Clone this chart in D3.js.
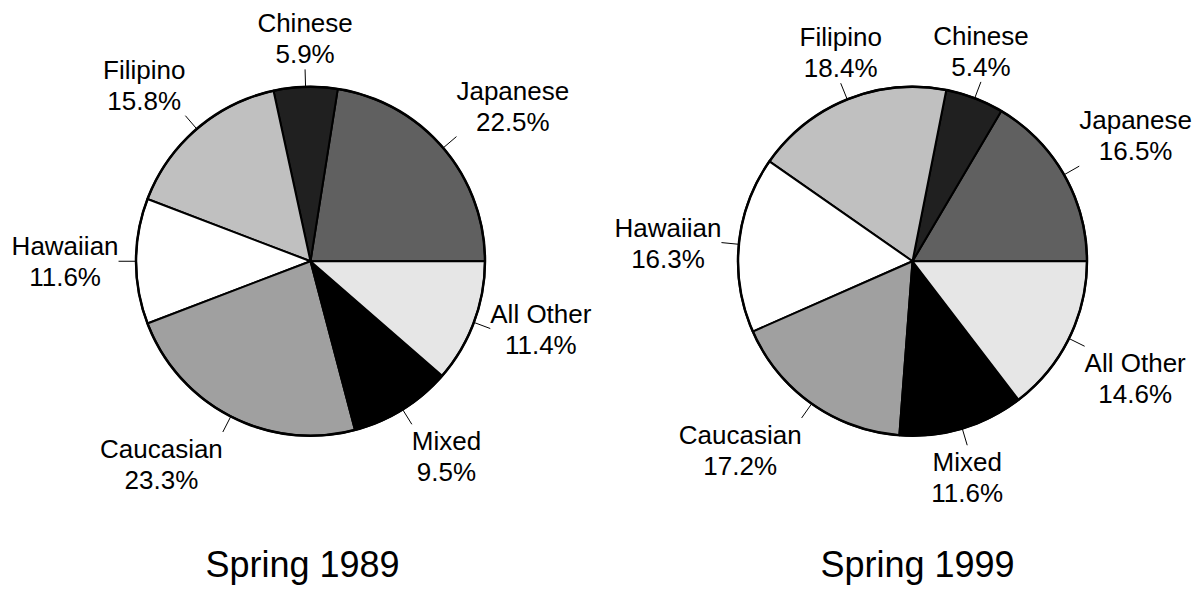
<!DOCTYPE html>
<html>
<head>
<meta charset="utf-8">
<script src="https://cdn.jsdelivr.net/npm/d3@7"></script>
<style>
  html, body { margin: 0; padding: 0; background: #ffffff; }
  svg { display: block; }
  text { font-family: "Liberation Sans", Arial, Helvetica, sans-serif; fill: #000; }
</style>
</head>
<body>
<script>
// ---- Data ----
const categories = ["Japanese", "Chinese", "Filipino", "Hawaiian", "Caucasian", "Mixed", "All Other"];
const values1989 = [22.5, 5.9, 15.8, 11.6, 23.3, 9.5, 11.4];
const values1999 = [16.5, 5.4, 18.4, 16.3, 17.2, 11.6, 14.6];
const titles = ["Spring 1989", "Spring 1999"];
const sliceColors = ["#606060", "#202020", "#c0c0c0", "#ffffff", "#a0a0a0", "#000000", "#e6e6e6"];

// ---- Layout ----
const W = 1202, H = 590;
const R = 174.5;
const labelFont = 26, lineGap = 31;
const panels = [
  { cx: 310.5, cy: 261.25, values: values1989, title: titles[0], tx: 302.5 },
  { cx: 912.5, cy: 261.25, values: values1999, title: titles[1], tx: 917.5 }
];

const svg = d3.select("body").append("svg")
  .attr("width", W).attr("height", H);

const color = d3.scaleOrdinal().domain(categories).range(sliceColors);
const pie = d3.pie().sort(null)
  .value(d => d.value)
  .startAngle(Math.PI / 2)
  .endAngle(Math.PI / 2 - 2 * Math.PI);
const arc = d3.arc().innerRadius(0).outerRadius(R);

panels.forEach(p => {
  const data = categories.map((c, i) => ({ cat: c, value: p.values[i] }));
  const arcs = pie(data);
  const g = svg.append("g").attr("transform", `translate(${p.cx},${p.cy})`);

  g.selectAll("path.slice").data(arcs).join("path")
    .attr("class", "slice")
    .attr("d", arc)
    .attr("fill", d => color(d.data.cat))
    .attr("stroke", "#000")
    .attr("stroke-width", 2)
    .attr("stroke-linejoin", "round");

  g.append("circle").attr("r", R)
    .attr("fill", "none").attr("stroke", "#000").attr("stroke-width", 2.5);

  arcs.forEach(d => {
    const mid = (d.startAngle + d.endAngle) / 2;
    const ux = Math.sin(mid), uy = -Math.cos(mid);
    g.append("line")
      .attr("x1", ux * R).attr("y1", uy * R)
      .attr("x2", ux * R * 1.1).attr("y2", uy * R * 1.1)
      .attr("stroke", "#000").attr("stroke-width", 1);

    const px = ux * R * 1.1, py = uy * R * 1.1;
    const h = Math.abs(ux) < 0.383 ? "middle" : (ux > 0 ? "start" : "end");
    const v = Math.abs(uy) < 0.383 ? "middle" : (uy < 0 ? "bottom" : "top");
    const b1 = v === "top" ? 26 : (v === "middle" ? -6 : -37);

    const t = g.append("text")
      .attr("text-anchor", "middle")
      .style("font-size", labelFont + "px");
    const lines = [d.data.cat, d.data.value.toFixed(1) + "%"];
    const spans = lines.map((s, i) => t.append("tspan")
      .attr("x", 0).attr("y", py + b1 + i * lineGap).text(s));
    const w = Math.max(...spans.map(sp => sp.node().getComputedTextLength()));
    const cx = h === "start" ? px + w / 2 : (h === "end" ? px - w / 2 : px);
    spans.forEach(sp => sp.attr("x", cx));
  });

  svg.append("text")
    .attr("x", p.tx).attr("y", 577)
    .attr("text-anchor", "middle")
    .style("font-size", "36px")
    .text(p.title);
});
</script>
</body>
</html>
